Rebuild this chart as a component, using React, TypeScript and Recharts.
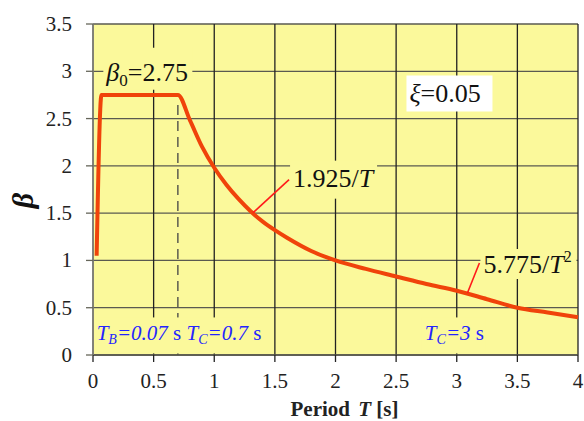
import React from 'react';
import {
  LineChart,
  Line,
  XAxis,
  YAxis,
  CartesianGrid,
  ReferenceLine,
  ReferenceDot,
} from 'recharts';

// Design response spectrum: period T [s] and dynamic amplification β
const periods = [0.03, 0.07, 0.7, 0.8, 0.9, 1.0, 1.1, 1.2, 1.3, 1.4, 1.5, 1.6, 1.8, 2.0, 2.25, 2.5, 2.75, 3.0, 3.25, 3.5, 3.75, 4.0];
const betaValues = [1.05, 2.75, 2.75, 2.48, 2.2, 1.98, 1.8, 1.65, 1.52, 1.41, 1.32, 1.24, 1.1, 1.0, 0.91, 0.83, 0.75, 0.68, 0.59, 0.5, 0.45, 0.4];

const xTicks = [0, 0.5, 1, 1.5, 2, 2.5, 3, 3.5, 4];
const yTicks = [0, 0.5, 1, 1.5, 2, 2.5, 3, 3.5];

const periodTB = 0.07;
const periodTC = 0.7;
const betaZero = 2.75;

const data = periods.map((t, i) => ({ t, beta: betaValues[i] }));

const FONT = '"Liberation Serif", "Times New Roman", serif';
const PLOT_BG = '#fbf99b';
const CURVE = '#f0430a';
const LEADER = '#ff1a1a';
const BLUE = '#2424ff';

const XTick = ({ x, y, payload }: any) => (
  <text x={x} y={y + 24} textAnchor="middle" fontFamily={FONT} fontSize={21} fill="#222">
    {payload.value}
  </text>
);

const YTick = ({ x, y, payload }: any) => (
  <text x={x - 12} y={y + 7} textAnchor="end" fontFamily={FONT} fontSize={21} fill="#222">
    {payload.value}
  </text>
);

const BetaZeroLabel = ({ cx, cy }: any) => (
  <g>
    <rect x={cx - 3} y={cy - 33} width={89} height={42} fill={PLOT_BG} />
    <text x={cx} y={cy} fontFamily={FONT} fontSize={26} fill="#111">
      <tspan fontStyle="italic">β</tspan>
      <tspan fontSize={17} dy={5}>0</tspan>
      <tspan dy={-5}>=2.75</tspan>
    </text>
  </g>
);

const DampingLabel = ({ cx, cy }: any) => (
  <g>
    <rect x={cx - 3} y={cy - 27} width={86} height={36} fill="#ffffff" />
    <text x={cx} y={cy} fontFamily={FONT} fontSize={26} fill="#111">
      <tspan fontStyle="italic">ξ</tspan>
      <tspan>=0.05</tspan>
    </text>
  </g>
);

const BranchOneLabel = ({ cx, cy }: any) => (
  <g>
    <rect x={cx - 3} y={cy - 26} width={87} height={38} fill={PLOT_BG} />
    <line x1={cx - 4} y1={cy - 7} x2={cx - 40} y2={cy + 26} stroke={LEADER} strokeWidth={1.6} />
    <text x={cx} y={cy} fontFamily={FONT} fontSize={26} fill="#111">
      1.925/<tspan fontStyle="italic">T</tspan>
    </text>
  </g>
);

const BranchTwoLabel = ({ cx, cy }: any) => (
  <g>
    <rect x={cx - 3} y={cy - 24} width={96} height={30} fill={PLOT_BG} />
    <line x1={cx - 4} y1={cy - 10} x2={cx - 16} y2={cy + 20} stroke={LEADER} strokeWidth={1.6} />
    <text x={cx} y={cy} fontFamily={FONT} fontSize={26} fill="#111">
      5.775/<tspan fontStyle="italic">T</tspan>
      <tspan fontSize={16} dy={-11}>2</tspan>
    </text>
  </g>
);

const CornerLabels = ({ cx, cy }: any) => (
  <g>
    <rect x={cx - 2} y={cy - 23} width={170} height={36} fill={PLOT_BG} />
    <text x={cx} y={cy} fontFamily={FONT} fontSize={21} fill={BLUE}>
      <tspan fontStyle="italic">T</tspan>
      <tspan fontStyle="italic" fontSize={14} dy={4}>B</tspan>
      <tspan fontStyle="italic" dy={-4}>=0.07</tspan>
      <tspan> s </tspan>
      <tspan fontStyle="italic">T</tspan>
      <tspan fontStyle="italic" fontSize={14} dy={4}>C</tspan>
      <tspan fontStyle="italic" dy={-4}>=0.7</tspan>
      <tspan> s</tspan>
    </text>
  </g>
);

const LongPeriodLabel = ({ cx, cy }: any) => (
  <g>
    <rect x={cx - 3} y={cy - 23} width={64} height={36} fill={PLOT_BG} />
    <text x={cx} y={cy} fontFamily={FONT} fontSize={21} fill={BLUE}>
      <tspan fontStyle="italic">T</tspan>
      <tspan fontStyle="italic" fontSize={14} dy={4}>C</tspan>
      <tspan fontStyle="italic" dy={-4}>=3</tspan>
      <tspan> s</tspan>
    </text>
  </g>
);

const XTitle = ({ viewBox }: any) => {
  const { x, y, width } = viewBox;
  return (
    <text
      x={x + width / 2 + 9}
      y={y + 61}
      textAnchor="middle"
      fontFamily={FONT}
      fontSize={21}
      fontWeight="bold"
      fill="#222"
    >
      Period <tspan dx={3} fontStyle="italic">T</tspan> [s]
    </text>
  );
};

const YTitle = ({ viewBox }: any) => {
  const { y, height } = viewBox;
  const cx = 22;
  const cy = y + height / 2 + 11;
  return (
    <text
      x={cx}
      y={cy}
      transform={`rotate(-90 ${cx} ${cy})`}
      textAnchor="middle"
      dominantBaseline="central"
      fontFamily={FONT}
      fontSize={30}
      fontWeight="bold"
      fontStyle="italic"
      fill="#111"
    >
      β
    </text>
  );
};

export default function App() {
  return (
    <div style={{ position: 'absolute', left: 0, top: 0, width: 584, height: 421, background: '#fff' }}>
      <LineChart width={584} height={421} data={data} margin={{ top: 24, right: 6, bottom: 0, left: 0 }}>
        <CartesianGrid fill={PLOT_BG} stroke="#5a5a50" strokeWidth={1.3} vertical={false} />
        <CartesianGrid stroke="#222" strokeWidth={1.3} horizontal={false} fillOpacity={0} />
        <XAxis
          dataKey="t"
          type="number"
          domain={[0, 4]}
          ticks={xTicks}
          height={66}
          tickSize={7}
          tickLine={{ stroke: '#222', strokeWidth: 1.3 }}
          axisLine={{ stroke: '#55554a', strokeWidth: 1.5 }}
          tick={<XTick />}
          label={<XTitle />}
        />
        <YAxis
          type="number"
          domain={[0, 3.5]}
          ticks={yTicks}
          width={93}
          tickSize={7}
          tickLine={{ stroke: '#66665a', strokeWidth: 1.3 }}
          axisLine={{ stroke: '#888880', strokeWidth: 1.5 }}
          tick={<YTick />}
          label={<YTitle />}
        />
        <ReferenceLine
          segment={[
            { x: periodTC, y: 0 },
            { x: periodTC, y: betaZero - 0.05 },
          ]}
          stroke="#444"
          strokeWidth={1.3}
          strokeDasharray="10 6"
        />
        <Line
          dataKey="beta"
          type="monotone"
          stroke={CURVE}
          strokeWidth={4}
          strokeLinejoin="round"
          dot={false}
          isAnimationActive={false}
        />
        <ReferenceDot x={0.11} y={2.9} r={0} ifOverflow="visible" shape={(p: any) => <BetaZeroLabel {...p} />} />
        <ReferenceDot x={2.61} y={2.67} r={0} ifOverflow="visible" shape={(p: any) => <DampingLabel {...p} />} />
        <ReferenceDot x={1.65} y={1.78} r={0} ifOverflow="visible" shape={(p: any) => <BranchOneLabel {...p} />} />
        <ReferenceDot x={3.22} y={0.867} r={0} ifOverflow="visible" shape={(p: any) => <BranchTwoLabel {...p} />} />
        <ReferenceDot x={periodTB - 0.04} y={0.154} r={0} ifOverflow="visible" shape={(p: any) => <CornerLabels {...p} />} />
        <ReferenceDot x={2.737} y={0.154} r={0} ifOverflow="visible" shape={(p: any) => <LongPeriodLabel {...p} />} />
      </LineChart>
    </div>
  );
}
